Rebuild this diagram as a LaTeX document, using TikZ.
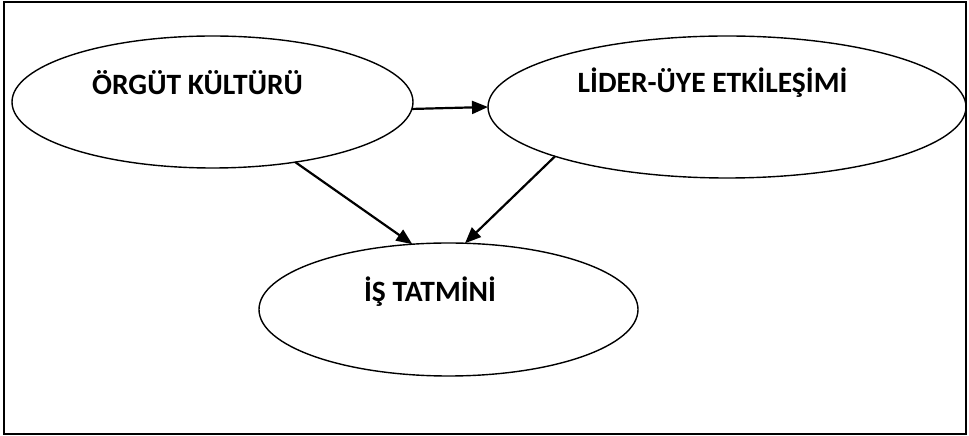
\documentclass[tikz,border=0pt]{standalone}
\usepackage{fontspec}
\setmainfont{Carlito}
\usetikzlibrary{shapes.geometric,arrows.meta}
\tikzset{
  oval/.style={draw=black, ellipse, line width=1.4pt, inner sep=0pt, outer sep=0pt},
  lbl/.style={anchor=base, inner sep=0pt, font=\fontsize{29.5}{31}\selectfont\bfseries},
  link/.style={line width=2.2pt, -{Triangle[length=16pt,width=13pt]}}
}
\begin{document}
\begin{tikzpicture}[x=1pt,y=1pt]
\useasboundingbox (0,0) rectangle (969,436);
\draw[line width=1.8pt] (4,2) rectangle (966,434);
\node[oval, minimum width=401pt, minimum height=132pt] (e1) at (212.5,334) {};
\node[oval, minimum width=478pt, minimum height=142pt] (e2) at (727,329) {};
\node[oval, minimum width=379pt, minimum height=133pt] (e3) at (448.5,126.5) {};
\node[lbl] (t1) at (197.5,341) {ÖRGÜT KÜLTÜRÜ};
\node[lbl] (t2) at (712.5,343) {LİDER-ÜYE ETKİLEŞİMİ};
\node[lbl] (t3) at (430,134) {İŞ TATMİNİ};
\draw[link] (e1.-2) -- (e2.180);
\draw[link] (e1.-36) -- (e3.119);
\draw[link] (e2.196) -- (e3.76);
\end{tikzpicture}
\end{document}
